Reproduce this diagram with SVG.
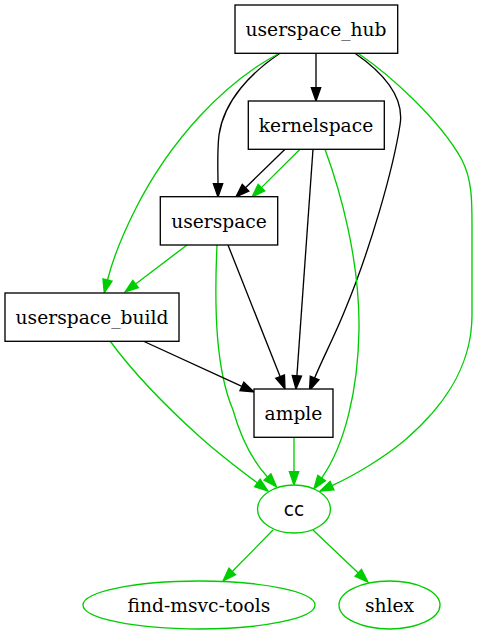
<svg xmlns="http://www.w3.org/2000/svg" width="478" height="635" viewBox="0 0 478 635">
<style>
.box{fill:#fff;stroke:#000;stroke-width:1.33}
.ell{fill:#fff;stroke:#00cd00;stroke-width:1.33}
.lbl{font-family:"DejaVu Serif","Liberation Serif",serif;font-size:18.67px;fill:#000;text-anchor:middle}
.sans{font-family:"DejaVu Sans","Liberation Sans",sans-serif}
.e{fill:none;stroke-width:1.33}
.k{stroke:#000;marker-end:url(#ak)}
.g{stroke:#00cd00;marker-end:url(#ag)}
</style>
<defs>
<marker id="ak" markerUnits="userSpaceOnUse" markerWidth="16" markerHeight="12" refX="1" refY="5.67" orient="auto" overflow="visible">
<path d="M1,1 L14.3,5.67 L1,10.33 z" fill="#000" stroke="#000" stroke-width="1.33"/>
</marker>
<marker id="ag" markerUnits="userSpaceOnUse" markerWidth="16" markerHeight="12" refX="1" refY="5.67" orient="auto" overflow="visible">
<path d="M1,1 L14.3,5.67 L1,10.33 z" fill="#00cd00" stroke="#00cd00" stroke-width="1.33"/>
</marker>
</defs>
<rect width="478" height="635" fill="#fff"/>
<g id="edges">
<path class="e k" d="M316,53.3 L316,87.7"/>
<path class="e k" d="M280,53.3 C252,72 224,100 219,135 C217,152 218,170 218,183.7"/>
<path class="e k" d="M355,53.3 C382,72 405,96 400,125 C393,170 370,250 345,310 C335,335 322,360 314.6,378.1"/>
<path class="e g" d="M278,54 C225,82 170,140 135,210 C122,236 113,258 107.5,280"/>
<path class="e g" d="M358,53.3 C390,75 440,120 462,160 C472,180 472,200 472,225 L472,315 C472,370 440,410 405,440 C385,457 355,475 332,485.6"/>
<path class="e k" d="M285,149.3 L245.5,187.7"/>
<path class="e g" d="M300,149.3 L261.4,187.6"/>
<path class="e k" d="M313,149.3 L296.9,375.7"/>
<path class="e g" d="M325,149.3 C340,190 360,260 359,330 C358,390 345,445 321.6,478.1"/>
<path class="e g" d="M187,245 L135.6,284"/>
<path class="e k" d="M228,245 L280.1,376.6"/>
<path class="e g" d="M217,245 C214,310 216,370 233,410 C240,435 252,460 267.5,477"/>
<path class="e k" d="M143,341 L241.9,386.4"/>
<path class="e g" d="M110,341 C135,375 170,410 200,437 C220,455 240,470 257.4,483"/>
<path class="e g" d="M294,437 L294,471.7"/>
<path class="e g" d="M273,530 L232.3,571.5"/>
<path class="e g" d="M313,530 L358.3,572.9"/>
</g>
<g id="userspace_hub"><rect class="box" x="235" y="5" width="162.7" height="48.3"/><text class="lbl" x="316" y="35.7">userspace_hub</text></g>
<g id="kernelspace"><rect class="box" x="248.3" y="101" width="136" height="48.3"/><text class="lbl" x="316" y="131.7">kernelspace</text></g>
<g id="userspace"><rect class="box" x="160.3" y="196.7" width="117.4" height="48.3"/><text class="lbl" x="219" y="227.5">userspace</text></g>
<g id="userspace_build"><rect class="box" x="5" y="293" width="174" height="48.3"/><text class="lbl" x="92" y="323.5">userspace_build</text></g>
<g id="ample"><rect class="box" x="254" y="389" width="79" height="48.3"/><text class="lbl" x="293.5" y="420">ample</text></g>
<g id="cc"><ellipse class="ell" cx="294" cy="509" rx="36.5" ry="24"/><text class="lbl sans" x="294" y="515.7">cc</text></g>
<g id="find-msvc-tools"><ellipse class="ell" cx="199" cy="605" rx="116" ry="24"/><text class="lbl" x="199" y="611.7">find-msvc-tools</text></g>
<g id="shlex"><ellipse class="ell" cx="389.5" cy="605" rx="50.5" ry="24"/><text class="lbl" x="389.5" y="611.7">shlex</text></g>
</svg>
